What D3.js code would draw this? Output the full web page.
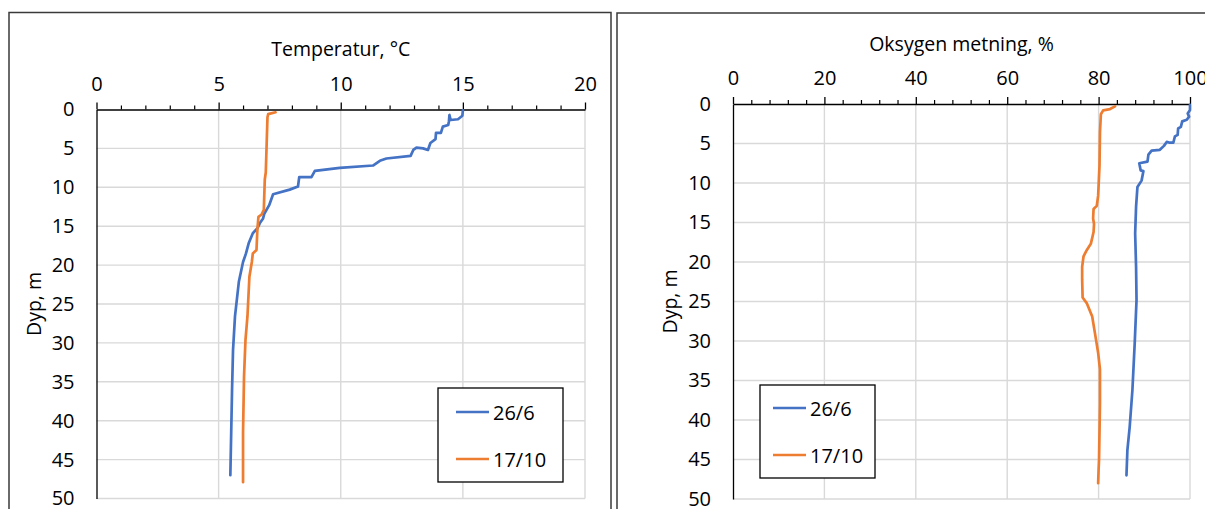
<!DOCTYPE html>
<html>
<head>
<meta charset="utf-8">
<script src="https://cdn.jsdelivr.net/npm/d3@7"></script>
<style>
  html, body { margin: 0; padding: 0; background: #fff; }
  svg { display: block; }
  text { font-family: "Open Sans", "Noto Sans", sans-serif; fill: #000; }
</style>
</head>
<body>
<svg id="chart" width="1205" height="509"></svg>
<script>
// ---- Data ----
const seriesNames = ["26/6", "17/10"];
const depthTicks = [0, 5, 10, 15, 20, 25, 30, 35, 40, 45, 50];
const tempTicks = [0, 5, 10, 15, 20];
const oxyTicks = [0, 20, 40, 60, 80, 100];

// Temperature, 26/6
const tempDepth26 = [0.1, 0.8, 1.25, 1.35, 0.7, 1.5, 2.0, 2.2, 3.0, 3.0, 3.8, 4.3, 5.2, 5.0, 4.9, 5.2, 5.96, 6.3, 6.6, 7.2, 7.5, 7.9, 8.7, 8.7, 9.9, 10.3, 10.9, 12.3, 13.4, 14.0, 14.6, 15.3, 15.9, 17.2, 18.5, 19.6, 22.1, 26.6, 30.9, 36.0, 47.0];
const temp26 = [15.0, 14.98, 14.8, 14.5, 14.45, 14.43, 14.4, 14.18, 14.1, 13.9, 13.88, 13.67, 13.57, 13.37, 13.1, 12.97, 12.86, 11.87, 11.6, 11.32, 9.96, 8.94, 8.8, 8.3, 8.25, 7.91, 7.23, 7.07, 6.87, 6.82, 6.69, 6.58, 6.4, 6.23, 6.12, 6.0, 5.83, 5.67, 5.59, 5.55, 5.48];
// Temperature, 17/10
const tempDepth17 = [0.36, 0.6, 1.0, 5.1, 8.1, 9.0, 12.9, 13.5, 13.8, 15.3, 15.9, 18.06, 18.5, 19.6, 21.5, 26.6, 29.6, 34.3, 41.5, 47.9];
const temp17 = [7.33, 7.03, 7.0, 6.96, 6.93, 6.89, 6.85, 6.76, 6.63, 6.59, 6.58, 6.55, 6.4, 6.36, 6.26, 6.18, 6.1, 6.04, 6.0, 6.0];
// Oxygen saturation, 26/6
const oxyDepth26 = [0.1, 0.76, 1.2, 1.6, 2.0, 2.2, 2.9, 3.1, 3.9, 4.1, 4.9, 4.9, 4.8, 5.3, 5.8, 5.9, 6.4, 7.3, 7.5, 8.4, 8.5, 9.7, 10.5, 13.0, 16.4, 20.6, 24.8, 30.3, 36.2, 40.9, 43.8, 47.0];
const oxy26 = [100, 100, 99.5, 99.8, 99.3, 98.3, 98.0, 97.4, 97.3, 96.7, 96.35, 95.6, 94.9, 94.3, 93.4, 91.6, 90.9, 90.7, 88.9, 89.2, 89.8, 89.4, 88.5, 88.2, 88.0, 88.2, 88.3, 87.9, 87.4, 86.8, 86.3, 86.1];
// Oxygen saturation, 17/10
const oxyDepth17 = [0.3, 0.64, 0.8, 1.3, 3.6, 7.8, 11.6, 12.9, 13.3, 14.5, 15.2, 16.2, 17.7, 18.5, 19.3, 20.6, 22.2, 24.5, 25.2, 26.9, 29.0, 31.5, 33.6, 37.9, 45.0, 46.3, 48.0];
const oxy17 = [83.6, 82.5, 81.0, 80.5, 80.3, 80.2, 79.9, 79.6, 78.9, 78.8, 79.0, 78.9, 78.3, 77.4, 76.7, 76.4, 76.4, 76.5, 77.4, 78.6, 79.2, 79.9, 80.3, 80.3, 80.1, 80.0, 79.9];

const colors = ["#4472C4", "#ED7D31"];

const svg = d3.select("#chart");

function zip(ds, vs) { return ds.map((d, i) => ({ d: d, v: vs[i] })); }

function drawPanel(cfg) {
  const g = svg.append("g");
  // frame
  g.append("rect")
    .attr("x", cfg.frame[0]).attr("y", cfg.frame[1])
    .attr("width", cfg.frame[2]).attr("height", cfg.frame[3])
    .attr("fill", "#fff").attr("stroke", "#3a3a3a").attr("stroke-width", 1.5);

  const x = d3.scaleLinear().domain([cfg.xTicks[0], cfg.xTicks[cfg.xTicks.length - 1]]).range([cfg.left, cfg.right]);
  const y = d3.scaleLinear().domain([0, 50]).range([cfg.top, cfg.bottom]);

  // gridlines
  g.append("g").selectAll("line.v").data(cfg.xTicks.slice(1)).join("line")
    .attr("x1", d => x(d)).attr("x2", d => x(d))
    .attr("y1", cfg.top).attr("y2", cfg.bottom)
    .attr("stroke", "#d9d9d9").attr("stroke-width", 1.4);
  g.append("g").selectAll("line.h").data(depthTicks.slice(1)).join("line")
    .attr("x1", cfg.left).attr("x2", cfg.right)
    .attr("y1", d => y(d)).attr("y2", d => y(d))
    .attr("stroke", "#d9d9d9").attr("stroke-width", 1.4);

  // minor ticks on top axis
  const step = cfg.xTicks[1] - cfg.xTicks[0];
  const minorStep = step / 5;
  const minor = d3.range(cfg.xTicks[0], cfg.xTicks[cfg.xTicks.length - 1] + 1e-9, minorStep)
    .filter(v => Math.abs(v / step - Math.round(v / step)) > 1e-6);
  g.append("g").attr("transform", `translate(0,${cfg.top})`)
    .call(d3.axisTop(x).tickValues(minor).tickSize(4).tickFormat(""))
    .call(a => a.select(".domain").remove())
    .selectAll("line").attr("stroke", "#000").attr("stroke-width", 1.2);

  // major ticks + labels
  const xa = g.append("g").attr("transform", `translate(0,${cfg.top})`)
    .call(d3.axisTop(x).tickValues(cfg.xTicks).tickSize(7).tickSizeOuter(0).tickPadding(cfg.xPad).tickFormat(d3.format("d")));
  xa.select(".domain").attr("stroke", "#000").attr("stroke-width", 1.3);
  xa.selectAll("line").attr("stroke", "#000").attr("stroke-width", 1.3);
  xa.selectAll("text").attr("font-size", 20).attr("font-family", "'Open Sans', sans-serif");

  // y axis
  const ya = g.append("g").attr("transform", `translate(${cfg.left},0)`)
    .call(d3.axisLeft(y).tickValues(depthTicks).tickSize(0).tickSizeOuter(0).tickPadding(22).tickFormat(d3.format("d")));
  ya.select(".domain").attr("stroke", "#000").attr("stroke-width", 1.3);
  ya.selectAll("text").attr("font-size", 20).attr("font-family", "'Open Sans', sans-serif");

  // titles
  g.append("text").attr("x", (cfg.left + cfg.right) / 2).attr("y", cfg.titleY)
    .attr("text-anchor", "middle").attr("dominant-baseline", "central")
    .attr("font-size", 19.5).text(cfg.title);
  g.append("text")
    .attr("transform", `translate(${cfg.yTitleX},${(cfg.top + cfg.bottom) / 2}) rotate(-90)`)
    .attr("text-anchor", "middle").attr("dominant-baseline", "central")
    .attr("font-size", 19.5).text("Dyp, m");

  // lines
  const line = d3.line().x(p => x(p.v)).y(p => y(p.d));
  cfg.series.forEach((s, i) => {
    g.append("path").datum(s).attr("d", line)
      .attr("fill", "none").attr("stroke", colors[i]).attr("stroke-width", 2.7)
      .attr("stroke-linejoin", "round").attr("stroke-linecap", "round");
  });

  // legend
  const L = cfg.legend;
  const lg = g.append("g");
  lg.append("rect").attr("x", L.x).attr("y", L.y).attr("width", L.w).attr("height", L.h)
    .attr("fill", "#fff").attr("stroke", "#000").attr("stroke-width", 1.3);
  seriesNames.forEach((name, i) => {
    const yy = L.y + L.row0 + i * 47;
    lg.append("line").attr("x1", L.x + L.lx).attr("x2", L.x + L.lx + 33)
      .attr("y1", yy).attr("y2", yy).attr("stroke", colors[i]).attr("stroke-width", 2.7);
    lg.append("text").attr("x", L.x + L.lx + 37).attr("y", yy)
      .attr("dominant-baseline", "central").attr("font-size", 20).text(name);
  });
}

drawPanel({
  frame: [9, 12.5, 602, 520],
  left: 96.5, right: 585, top: 109.5, bottom: 498.5,
  xTicks: tempTicks, xPad: 12,
  title: "Temperatur, °C", titleY: 48,
  yTitleX: 33,
  series: [zip(tempDepth26, temp26), zip(tempDepth17, temp17)],
  legend: { x: 438, y: 388, w: 125, h: 94, lx: 18, row0: 24 }
});

drawPanel({
  frame: [617, 13, 620, 520],
  left: 733, right: 1190, top: 104, bottom: 499,
  xTicks: oxyTicks, xPad: 12,
  title: "Oksygen metning, %", titleY: 43,
  yTitleX: 669,
  series: [zip(oxyDepth26, oxy26), zip(oxyDepth17, oxy17)],
  legend: { x: 760, y: 385, w: 115, h: 93, lx: 13, row0: 23 }
});
</script>
</body>
</html>
